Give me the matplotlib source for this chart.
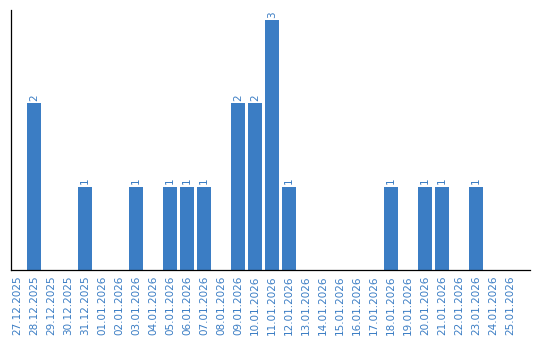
import matplotlib
matplotlib.use("Agg")
from matplotlib import pyplot as plt
import numpy as np

dates = ["27.12.2025", "28.12.2025", "29.12.2025", "30.12.2025", "31.12.2025",
         "01.01.2026", "02.01.2026", "03.01.2026", "04.01.2026", "05.01.2026",
         "06.01.2026", "07.01.2026", "08.01.2026", "09.01.2026", "10.01.2026",
         "11.01.2026", "12.01.2026", "13.01.2026", "14.01.2026", "15.01.2026",
         "16.01.2026", "17.01.2026", "18.01.2026", "19.01.2026", "20.01.2026",
         "21.01.2026", "22.01.2026", "23.01.2026", "24.01.2026", "25.01.2026"]
counts = [0, 2, 0, 0, 1, 0, 0, 1, 0, 1, 1, 1, 0, 2, 2, 3, 1, 0, 0, 0,
          0, 0, 1, 0, 1, 1, 0, 1, 0, 0]

blue = '#3b7dc4'
W, H = 540, 340
fig = plt.figure(figsize=(W / 100, H / 100), dpi=100)
# axes box in pixels: x 11..530, y 10..270
ax = fig.add_axes([11 / W, (H - 270) / H, (530 - 11) / W, (270 - 10) / H])

x = np.arange(len(dates))
ax.bar(x, counts, width=0.82, color=blue)
for i, c in enumerate(counts):
    if c > 0:
        ax.text(i, c + 0.03, str(c), rotation=90, ha='center', va='bottom',
                color=blue, fontsize=7.5)

ax.set_xlim(-0.353, 30.18)
ax.set_ylim(0, 3.12)
ax.set_xticks(x)
ax.set_xticklabels(dates, rotation=90, color=blue, fontsize=7.5)
ax.tick_params(axis='x', length=0, pad=4)
ax.set_yticks([])
for s in ['top', 'right']:
    ax.spines[s].set_visible(False)
for s in ['left', 'bottom']:
    ax.spines[s].set_linewidth(0.9)
    ax.spines[s].set_color('black')

fig.savefig('out.png', dpi=100)
